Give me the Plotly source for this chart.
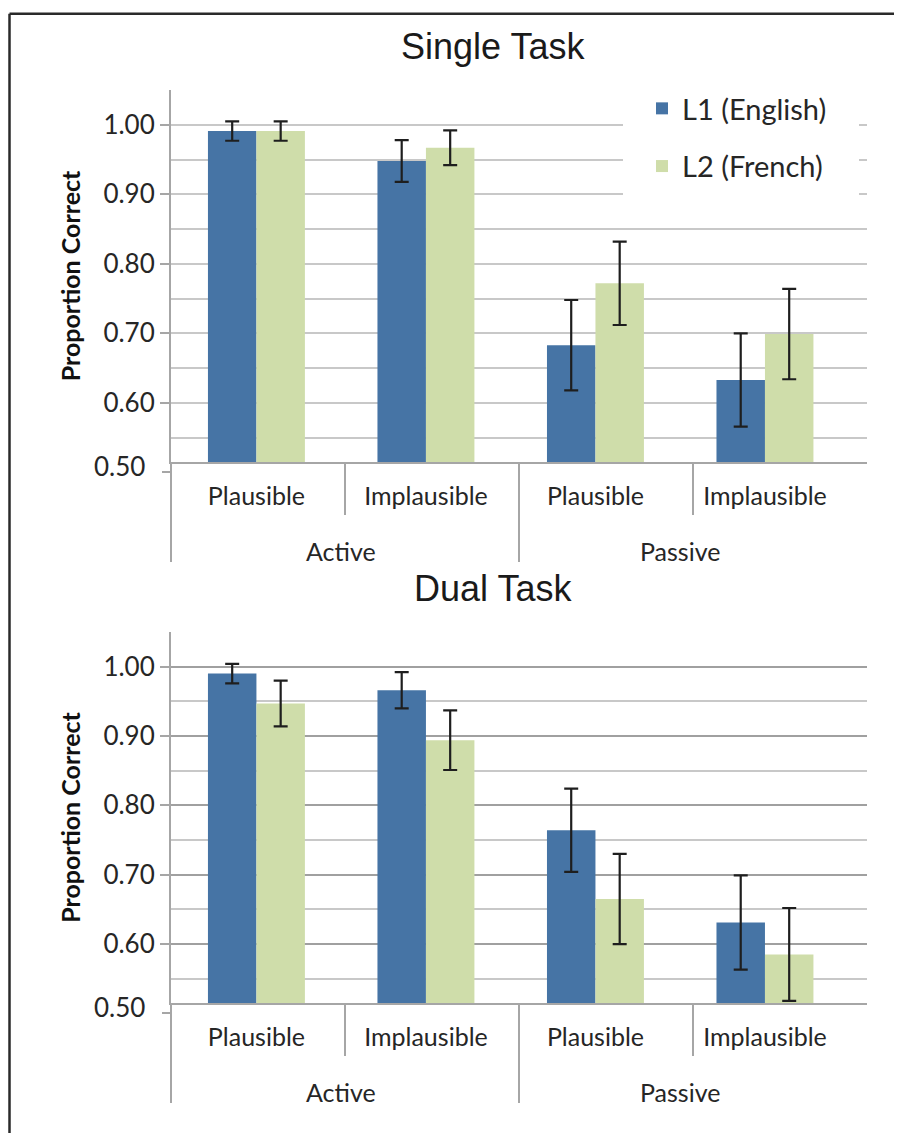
import plotly.graph_objects as go

# ---------------- data ----------------
keys = ["Active|Plausible", "Active|Implausible", "Passive|Plausible", "Passive|Implausible"]
inner_labels = ["Plausible", "Implausible", "Plausible", "Implausible"]
outer_labels = ["Active", "Passive"]
series_names = ["L1 (English)", "L2 (French)"]

single_l1 = [0.991, 0.948, 0.683, 0.633]
single_l1_err = [0.014, 0.030, 0.065, 0.067]
single_l2 = [0.991, 0.967, 0.772, 0.699]
single_l2_err = [0.014, 0.025, 0.060, 0.065]

dual_l1 = [0.990, 0.966, 0.764, 0.631]
dual_l1_err = [0.014, 0.026, 0.060, 0.068]
dual_l2 = [0.947, 0.894, 0.665, 0.585]
dual_l2_err = [0.033, 0.043, 0.065, 0.067]

y_ticks = [0.6, 0.7, 0.8, 0.9, 1.0]
panel_titles = ["Single Task", "Dual Task"]

# ---------------- style ----------------
OFF = 8  # page body margin
W, H = 902 - OFF, 1133 - OFF
BLUE = "#4674A5"
GREEN = "#CFDDAA"
AX = "#A6A6A6"
GRID_LIGHT = "#C8C8C8"
GRID_DARK = "#A0A0A0"
TXT = "#262626"
LAB_FONT = "Lato"
TICK_SIZE = 26
CAT_SIZE = 25


def X(px):
    return (px - OFF) / W


def Y(py):
    return 1 - (py - OFF) / H


fig = go.Figure()

panels = [
    dict(l1=single_l1, e1=single_l1_err, l2=single_l2, e2=single_l2_err, top=90, bottom=462,
         xa="x", ya="y", legend=True),
    dict(l1=dual_l1, e1=dual_l1_err, l2=dual_l2, e2=dual_l2_err, top=632, bottom=1003,
         xa="x2", ya="y2", legend=False),
]

for i, p in enumerate(panels):
    for name, vals, errs, col, grp in [
        (series_names[0], p["l1"], p["e1"], BLUE, "g1"),
        (series_names[1], p["l2"], p["e2"], GREEN, "g2"),
    ]:
        fig.add_trace(go.Bar(
            x=keys, y=vals, name=name, marker=dict(color=col, line=dict(width=0)),
            error_y=dict(type="data", array=errs, visible=True, color="#1E1E1E",
                         thickness=2.2, width=7),
            xaxis=p["xa"], yaxis=p["ya"], showlegend=p["legend"], legendgroup=grp,
        ))

common_x = dict(
    type="category", categoryorder="array", categoryarray=keys,
    tickvals=keys, ticktext=inner_labels, range=[-0.504, 3.602],
    showline=True, linecolor=AX, linewidth=2, ticks="", showgrid=False,
    tickfont=dict(family=LAB_FONT, size=CAT_SIZE, color=TXT), ticklabelstandoff=11,
    zeroline=False,
)
common_y = dict(
    range=[0.515, 1.05], tickvals=y_ticks, tickformat=".2f",
    showline=True, linecolor=AX, linewidth=2, ticks="outside", ticklen=9,
    tickwidth=2, tickcolor=AX, showgrid=True, gridwidth=2,
    minor=dict(tick0=0.5, dtick=0.05, showgrid=True, gridcolor=GRID_LIGHT, gridwidth=2, ticks=""),
    tickfont=dict(family=LAB_FONT, size=TICK_SIZE, color=TXT), zeroline=False,
    title=dict(text="<b>Proportion Correct</b>", font=dict(family=LAB_FONT, size=25, color="#111"),
               standoff=16),
)

fig.update_layout(
    xaxis=dict(common_x, domain=[X(171), X(867)], anchor="y"),
    yaxis=dict(common_y, domain=[Y(462), Y(90)], anchor="x", gridcolor=GRID_LIGHT),
    xaxis2=dict(common_x, domain=[X(171), X(867)], anchor="y2"),
    yaxis2=dict(common_y, domain=[Y(1003), Y(632)], anchor="x2", gridcolor=GRID_DARK),
)

shapes = []
annotations = []

# outer border of the figure
shapes.append(dict(type="line", xref="paper", yref="paper", x0=X(9.5), x1=1.0, y0=Y(13.8), y1=Y(13.8),
                   line=dict(color="#2A2A2A", width=2.5)))
shapes.append(dict(type="line", xref="paper", yref="paper", x0=X(9.5), x1=X(9.5), y0=Y(13.8), y1=0,
                   line=dict(color="#2A2A2A", width=2.5)))

# legend background mask
shapes.append(dict(type="rect", xref="paper", yref="paper", x0=X(623), x1=X(859), y0=Y(195), y1=Y(88),
                   fillcolor="white", line=dict(width=0), layer="above"))

for i, p in enumerate(panels):
    xd = p["xa"] + " domain"
    b = p["bottom"]
    # category separators
    for fx, depth in [(0.0, 100), (0.25, 53), (0.5, 100), (0.75, 53)]:
        shapes.append(dict(type="line", xref=xd, yref="paper", x0=fx, x1=fx, y0=Y(b), y1=Y(b + depth),
                           line=dict(color=AX, width=2)))
    # 0.50 tick below the axis crossing
    shapes.append(dict(type="line", xref="paper", yref="paper", x0=X(162), x1=X(171),
                       y0=Y(b + 10), y1=Y(b + 10), line=dict(color=AX, width=2)))
    annotations.append(dict(text="0.50", xref="paper", yref="paper", x=X(147), y=Y(b + 4),
                            xanchor="right", yanchor="middle", showarrow=False,
                            font=dict(family=LAB_FONT, size=TICK_SIZE, color=TXT)))
    # outer group labels
    for gx, lab in zip([0.5, 2.5], outer_labels):
        annotations.append(dict(text=lab, xref=p["xa"], yref="paper", x=gx, y=Y(b + 89),
                                xanchor="center", yanchor="middle", showarrow=False,
                                font=dict(family=LAB_FONT, size=CAT_SIZE, color=TXT)))
    # panel title
    annotations.append(dict(text=panel_titles[i], xref="paper", yref="paper", x=X(493),
                            y=Y(p["top"] - 44), xanchor="center", yanchor="middle", showarrow=False,
                            font=dict(family="Liberation Sans", size=36, color="#1A1A1A")))

fig.update_layout(
    width=W, height=H, margin=dict(l=0, r=0, t=0, b=0),
    paper_bgcolor="white", plot_bgcolor="white",
    barmode="group", bargap=0.428, bargroupgap=0,
    shapes=shapes, annotations=annotations,
    showlegend=True,
    legend=dict(x=X(642), y=Y(83), xanchor="left", yanchor="top", bgcolor="rgba(0,0,0,0)",
                font=dict(family=LAB_FONT, size=29, color=TXT), tracegroupgap=17,
                itemsizing="constant"),
)

fig.write_html("out.html")
